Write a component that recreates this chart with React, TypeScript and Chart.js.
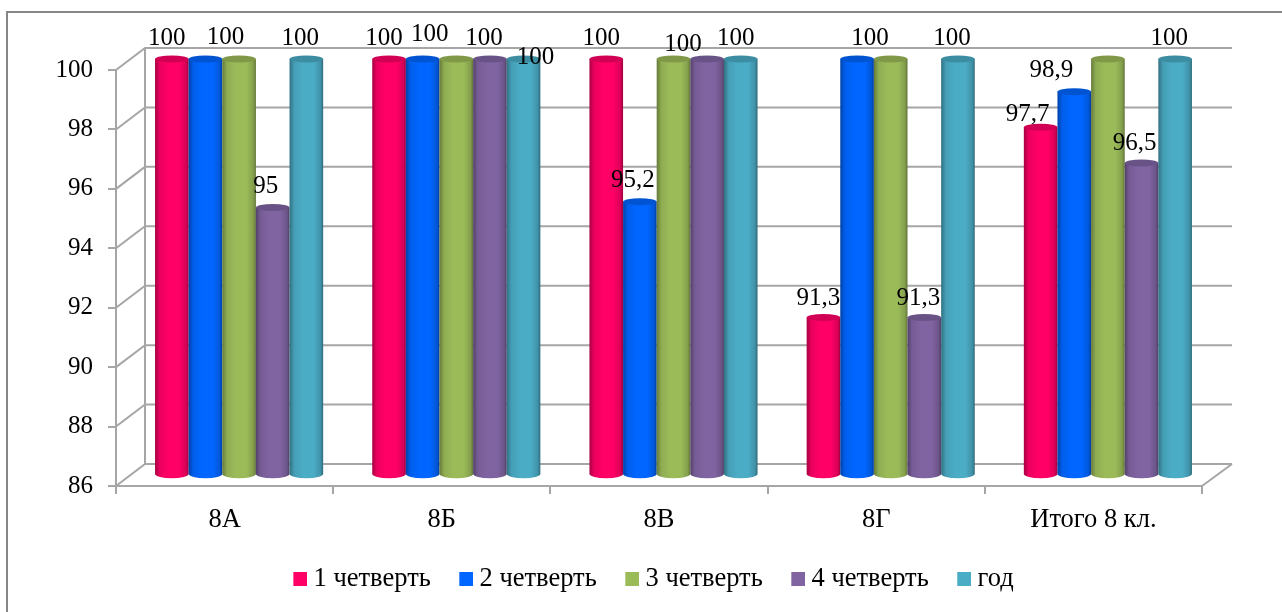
import React, { useEffect, useRef } from "react";
import { Chart, registerables } from "chart.js";

Chart.register(...registerables);

const categories = ["8А", "8Б", "8В", "8Г", "Итого 8 кл."];
const seriesNames = ["1 четверть", "2 четверть", "3 четверть", "4 четверть", "год"];
const quarter1 = [100, 100, 100, 91.3, 97.7];
const quarter2 = [100, 100, 95.2, 100, 98.9];
const quarter3 = [100, 100, 100, 100, 100];
const quarter4 = [95, 100, 100, 91.3, 96.5];
const year = [100, 100, 100, 100, 100];
const seriesColors = ["#FF0066", "#0066FF", "#9BBB59", "#8064A2", "#4BACC6"];
const yTicks = [86, 88, 90, 92, 94, 96, 98, 100];

// label nudges [dx, dy] from each bar's top centre, per series and category; null = no label
const labelNudges: ([number, number][] | null)[] = [
  [[-5, -21], [-5, -21], [-5, -21], [-5, -19], [-13, -13]],
  [[20, -22], [7, -25], [-7, -21], [13, -21], [-23, -21]],
  null,
  [[-7, -21], [-6, -21], [-24, -15], [-6, -19], [-7, -20]],
  [[-6, -21], [12, -2], [-5, -21], [-6, -21], [-6, -21]],
];

const GREY = "#a6a6a6";
const FONT = "'Liberation Serif', serif";
const DEPTH_X = 29;
const DEPTH_Y = 22;
const BAR_DX = 14.5;
const BAR_DY = -11;
const PAD_BOTTOM = 10;
const LEGEND_SHIFT = 110;

function shade(hex: string, k: number) {
  const n = parseInt(hex.slice(1), 16);
  const c = [(n >> 16) & 255, (n >> 8) & 255, n & 255].map((v) => Math.round(v * k));
  return `rgb(${c[0]},${c[1]},${c[2]})`;
}

function marker(color: string) {
  const c = document.createElement("canvas");
  c.width = 16;
  c.height = 14;
  const g = c.getContext("2d")!;
  g.fillStyle = color;
  g.fillRect(2, 0, 14, 14);
  return c;
}

const scene = {
  id: "scene",
  afterLayout(chart: any) {
    chart.legend.left += LEGEND_SHIFT;
  },
  beforeDraw(chart: any) {
    const { ctx } = chart;
    ctx.save();
    ctx.fillStyle = "#fff";
    ctx.fillRect(0, 0, chart.width, chart.height);
    ctx.strokeStyle = "#868686";
    ctx.lineWidth = 2;
    ctx.strokeRect(7, 12, chart.width + 40, chart.height + 40);
    ctx.restore();
  },
  beforeDatasetsDraw(chart: any) {
    const { ctx, chartArea: a, scales } = chart;
    ctx.save();
    ctx.strokeStyle = GREY;
    ctx.lineWidth = 2;
    ctx.beginPath();
    for (const v of yTicks) {
      const y = scales.y.getPixelForValue(v);
      ctx.moveTo(a.left, y);
      ctx.lineTo(a.left + DEPTH_X, y - DEPTH_Y);
      ctx.lineTo(a.right + DEPTH_X + 1, y - DEPTH_Y);
    }
    ctx.moveTo(a.left + DEPTH_X, a.top - DEPTH_Y);
    ctx.lineTo(a.left + DEPTH_X, a.bottom - DEPTH_Y);
    ctx.moveTo(a.right, a.bottom);
    ctx.lineTo(a.right + DEPTH_X + 1, a.bottom - DEPTH_Y);
    ctx.stroke();
    ctx.restore();

    ctx.save();
    ctx.translate(BAR_DX, BAR_DY);
    ctx.filter = "blur(0.7px)";
    chart.data.datasets.forEach((ds: any, i: number) => {
      const color = seriesColors[i];
      chart.getDatasetMeta(i).data.forEach((el: any) => {
        const p = el.getProps(["x", "y", "base", "width"], true);
        const l = p.x - p.width / 2;
        const r = p.x + p.width / 2;
        const rx = p.width / 2;
        const g = ctx.createLinearGradient(l, 0, r, 0);
        g.addColorStop(0, shade(color, 0.65));
        g.addColorStop(0.14, shade(color, 0.92));
        g.addColorStop(0.4, color);
        g.addColorStop(0.72, color);
        g.addColorStop(0.92, shade(color, 0.85));
        g.addColorStop(1, shade(color, 0.62));
        ctx.fillStyle = g;
        ctx.beginPath();
        ctx.moveTo(l, p.y);
        ctx.lineTo(l, p.base);
        ctx.ellipse(p.x, p.base, rx, 4.2, 0, Math.PI, 0, true);
        ctx.lineTo(r, p.y);
        ctx.closePath();
        ctx.fill();
        ctx.fillStyle = shade(color, 0.82);
        ctx.beginPath();
        ctx.ellipse(p.x, p.y, rx, 3.5, 0, 0, Math.PI * 2);
        ctx.fill();
      });
    });
    ctx.restore();
  },
  beforeDatasetDraw() {
    return false;
  },
  afterDatasetsDraw(chart: any) {
    const { ctx } = chart;
    ctx.save();
    ctx.font = `25px ${FONT}`;
    ctx.fillStyle = "#000";
    ctx.textAlign = "center";
    ctx.textBaseline = "middle";
    chart.data.datasets.forEach((ds: any, i: number) => {
      const nudges = labelNudges[i];
      if (!nudges) return;
      chart.getDatasetMeta(i).data.forEach((el: any, j: number) => {
        const p = el.getProps(["x", "y"], true);
        const text = String(ds.data[j]).replace(".", ",");
        ctx.fillText(text, p.x + BAR_DX + nudges[j][0], p.y + BAR_DY + nudges[j][1]);
      });
    });
    ctx.restore();
  },
};

export default function App() {
  const ref = useRef<HTMLCanvasElement>(null);
  useEffect(() => {
    const values = [quarter1, quarter2, quarter3, quarter4, year];
    const markers = seriesColors.map(marker);
    const chart = new Chart(ref.current!, {
      type: "bar",
      data: {
        labels: categories,
        datasets: seriesNames.map((name, i) => ({
          label: name,
          data: values[i],
          backgroundColor: seriesColors[i],
          categoryPercentage: 0.774,
          barPercentage: 1,
          base: 86,
        })),
      },
      plugins: [scene],
      options: {
        responsive: false,
        animation: false,
        devicePixelRatio: 1,
        layout: { padding: { top: 70, left: 0, right: 80, bottom: PAD_BOTTOM } },
        plugins: {
          tooltip: { enabled: false },
          title: { display: false },
          legend: {
            display: true,
            position: "bottom",
            labels: {
              usePointStyle: true,
              pointStyleWidth: 2,
              padding: 33.5,
              color: "#000",
              font: { family: FONT, size: 26.5 },
              generateLabels: (c: any) =>
                (Chart.defaults.plugins.legend.labels.generateLabels as any)(c).map((it: any, i: number) => ({
                  ...it,
                  pointStyle: markers[i],
                })),
            },
          },
        },
        scales: {
          x: {
            grid: { drawOnChartArea: false, color: GREY, lineWidth: 2, tickLength: 8, offset: true },
            border: { color: GREY, width: 2 },
            ticks: { color: "#000", font: { family: FONT, size: 26.5 }, padding: 10, maxRotation: 0 },
            afterFit: (s: any) => {
              s.height = 612 - 486 - PAD_BOTTOM - (s.chart.legend ? s.chart.legend.height : 0);
            },
          },
          y: {
            min: 86,
            max: 100,
            grid: { drawOnChartArea: false, color: GREY, lineWidth: 2, tickLength: 8 },
            border: { color: GREY, width: 2 },
            ticks: { color: "#000", font: { family: FONT, size: 25 }, padding: 15, stepSize: 2 },
            afterFit: (s: any) => {
              s.width = 116;
            },
          },
        },
      },
    } as any);
    return () => chart.destroy();
  }, []);
  return (
    <div style={{ position: "absolute", left: 0, top: 0 }}>
      <canvas ref={ref} width={1282} height={612} style={{ display: "block" }} />
    </div>
  );
}
